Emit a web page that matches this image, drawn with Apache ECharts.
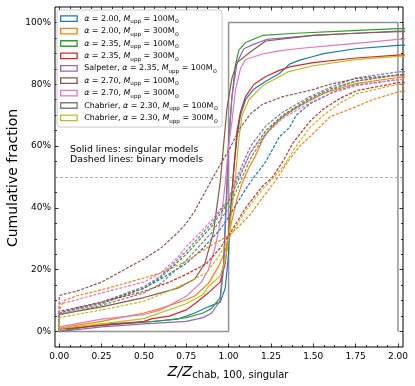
<!DOCTYPE html>
<html><head><meta charset="utf-8">
<script src="https://cdn.jsdelivr.net/npm/echarts@6/dist/echarts.min.js"></script>
<style>html,body{margin:0;padding:0;background:#fff}#c{width:415px;height:386px}</style>
</head><body><div id="c"></div>
<script>
// ---- data (x = Z/Z_chab,100,singular ; y = cumulative fraction in %) ----
const modelNames = ['a200_100','a200_300','a235_100','a235_300','salp','a270_100','a270_300','chab_100','chab_300'];
const legendLabels = [
  '{i|α} = 2.00, {i|M}{s|upp} = 100M{s|⊙}',
  '{i|α} = 2.00, {i|M}{s|upp} = 300M{s|⊙}',
  '{i|α} = 2.35, {i|M}{s|upp} = 100M{s|⊙}',
  '{i|α} = 2.35, {i|M}{s|upp} = 300M{s|⊙}',
  'Salpeter, {i|α} = 2.35, {i|M}{s|upp} = 100M{s|⊙}',
  '{i|α} = 2.70, {i|M}{s|upp} = 100M{s|⊙}',
  '{i|α} = 2.70, {i|M}{s|upp} = 300M{s|⊙}',
  'Chabrier, {i|α} = 2.30, {i|M}{s|upp} = 100M{s|⊙}',
  'Chabrier, {i|α} = 2.30, {i|M}{s|upp} = 300M{s|⊙}'
];
const colors = ['#1f77b4','#ff7f0e','#2ca02c','#d62728','#9467bd','#8c564b','#e377c2','#7f7f7f','#bcbd22'];

// singular models (solid)
const sing_a200_100 = [[0,0],[0,0.5],[0.1,1.2],[0.25,2],[0.5,3],[0.7,4],[0.8,6],[0.88,8],[0.95,9.5],[0.98,14],[1.0,25],[1.01,38],[1.03,52],[1.05,63],[1.07,70],[1.1,75],[1.15,78.5],[1.22,81],[1.3,83.5],[1.36,86.5],[1.42,87.8],[1.5,89],[1.56,89.9],[1.75,91.5],[2.0,92.6],[2.05,92.7]];
const sing_a200_300 = [[0,0],[0,1],[0.1,2],[0.25,3.3],[0.5,6],[0.6,7.5],[0.75,10.3],[0.8,11.5],[0.88,15.5],[0.94,21],[0.98,26],[1.02,36],[1.05,43],[1.08,48],[1.12,53],[1.16,57],[1.2,62],[1.25,66],[1.32,69.5],[1.4,72.5],[1.48,74.8],[1.56,77],[1.75,80.2],[2.0,82.2],[2.05,82.4]];
const sing_a235_100 = [[0,0],[0,0.5],[0.25,2.5],[0.5,3],[0.6,3.5],[0.75,4.5],[0.85,6],[0.9,7.5],[0.95,11],[0.97,22],[0.99,48],[1.0,62],[1.02,76],[1.04,86],[1.06,91],[1.1,93.5],[1.2,95.8],[1.4,96.5],[1.7,97.3],[2.0,98],[2.05,98]];
const sing_a235_300 = [[0,0],[0,0.8],[0.25,2],[0.5,3.3],[0.55,4.2],[0.65,5],[0.75,7],[0.8,9],[0.88,12.5],[0.95,16],[0.98,22],[1.0,31],[1.02,45],[1.03,52],[1.05,65],[1.07,71],[1.1,76],[1.15,80],[1.22,82.5],[1.3,84.5],[1.36,85.6],[1.5,87],[1.75,88.5],[2.0,89.4],[2.05,89.5]];
const sing_salp = [[0,0],[0,0.3],[0.25,1.5],[0.5,2.5],[0.75,3.3],[0.85,4.5],[0.9,6],[0.95,10],[0.97,20],[0.99,45],[1.0,60],[1.02,76],[1.05,87],[1.09,91.5],[1.15,93],[1.225,94.5],[1.5,95.8],[1.75,96.5],[2.0,97.2],[2.05,97.2]];
const sing_a270_100 = [[0,0],[0,5.5],[0.1,6.5],[0.25,8],[0.5,11],[0.6,12.5],[0.7,14],[0.8,17],[0.86,22],[0.91,32],[0.95,48],[0.97,60],[0.99,72],[1.02,82],[1.05,87],[1.13,90.5],[1.22,94],[1.5,95.8],[1.75,96.5],[2.0,97],[2.05,97]];
const sing_a270_300 = [[0,0],[0,1.5],[0.25,4],[0.5,5.5],[0.6,7],[0.75,11.4],[0.84,16],[0.88,20],[0.92,27],[0.96,38],[0.98,48],[1.0,60],[1.02,68],[1.04,78],[1.07,85],[1.1,88],[1.2,89.8],[1.3,90.8],[1.4,91.5],[1.6,92.5],[1.8,93.5],[2.0,94.5],[2.05,94.6]];
const sing_chab_100 = [[0,0],[1,0],[1,100],[2,100],[2,0]];
const sing_chab_300 = [[0,0],[0,1],[0.25,2.5],[0.5,4.2],[0.75,9],[0.85,12],[0.88,14.5],[0.95,18],[0.98,23],[1.0,30],[1.02,40],[1.04,50],[1.06,62],[1.08,70],[1.12,75],[1.2,79.5],[1.35,84],[1.5,86],[1.75,88],[2.0,89],[2.05,89.1]];

// binary models (dashed)
const bin_a200_100 = [[0,0],[0,6],[0.1,7.5],[0.25,9.5],[0.5,14],[0.6,17],[0.75,22],[0.85,27],[0.95,33],[1.0,37],[1.1,46],[1.15,50],[1.22,55],[1.3,63],[1.36,66],[1.4,70],[1.48,73.7],[1.62,77.5],[1.75,79.7],[2.0,81.5],[2.05,81.6]];
const bin_a200_300 = [[0,0],[0,7],[0.03,10],[0.1,11.5],[0.25,13.5],[0.5,17.3],[0.6,19],[0.75,22.7],[0.87,27],[0.95,29.5],[1.0,31],[1.06,34],[1.13,38],[1.19,42.5],[1.28,49],[1.35,55],[1.42,60],[1.48,63],[1.6,69.5],[1.75,72.7],[1.85,75],[2.0,77.5],[2.05,77.8]];
const bin_a235_100 = [[0,0],[0,6],[0.25,9],[0.5,14],[0.6,17.5],[0.75,25],[0.9,34],[1.0,42],[1.05,48],[1.13,58],[1.22,65],[1.32,70],[1.48,75.5],[1.6,78.5],[1.75,81],[2.0,83],[2.05,83.1]];
const bin_a235_300 = [[0,0],[0,6.5],[0.25,9.5],[0.5,13],[0.65,16],[0.75,18.5],[0.87,22],[0.95,27],[1.0,31],[1.1,40],[1.2,47],[1.26,50],[1.32,55],[1.38,61],[1.48,68],[1.56,72],[1.66,75.5],[1.76,78],[2.0,80.5],[2.05,80.6]];
const bin_salp = [[0,0],[0,6],[0.25,9.5],[0.5,14.5],[0.6,18],[0.75,26],[0.9,35],[1.0,43],[1.05,50],[1.13,60],[1.22,66.5],[1.32,71],[1.48,76],[1.6,79],[1.75,82],[2.0,84],[2.05,84.1]];
const bin_a270_100 = [[0,0],[0,11.5],[0.02,12],[0.1,13],[0.25,16],[0.35,19],[0.5,23.5],[0.6,27],[0.7,32],[0.75,35],[0.8,39],[0.88,47],[0.94,53],[1.0,58.5],[1.07,66],[1.13,70.5],[1.2,73.5],[1.32,76],[1.48,78],[1.6,80],[1.75,81.8],[2.0,83],[2.05,83.1]];
const bin_a270_300 = [[0,0],[0,9],[0.05,9.5],[0.25,12.5],[0.5,16],[0.6,19],[0.7,24],[0.75,27.5],[0.85,33],[0.9,36],[1.0,43],[1.05,49],[1.13,58],[1.22,64],[1.32,69],[1.48,74],[1.6,77],[1.75,79.5],[2.0,81.5],[2.05,81.6]];
const bin_chab_100 = [[0,0],[0,5.5],[0.25,8.5],[0.5,12.5],[0.6,15.5],[0.75,23],[0.9,32],[1.0,40],[1.05,46],[1.13,56],[1.22,64],[1.32,69.5],[1.48,75],[1.6,78],[1.75,81],[2.0,83],[2.05,83.1]];
const bin_chab_300 = [[0,0],[0,4.5],[0.25,7],[0.5,9.8],[0.6,12],[0.75,15.7],[0.87,19],[0.95,25],[1.0,30],[1.1,39],[1.2,46],[1.27,50],[1.33,54],[1.4,60],[1.48,66],[1.56,70],[1.66,74],[1.76,77],[2.0,80],[2.05,80.1]];

const singular = [sing_a200_100,sing_a200_300,sing_a235_100,sing_a235_300,sing_salp,sing_a270_100,sing_a270_300,sing_chab_100,sing_chab_300];
const binary = [bin_a200_100,bin_a200_300,bin_a235_100,bin_a235_300,bin_salp,bin_a270_100,bin_a270_300,bin_chab_100,bin_chab_300];

const xMajor = [0,0.25,0.5,0.75,1,1.25,1.5,1.75,2];
const yMajor = [0,20,40,60,80,100];
const halfLine = 50;

// ---- build ----
const xMinor = [];
for (let i = 0; i < xMajor.length - 1; i++) for (let k = 1; k < 4; k++) xMinor.push(xMajor[i] + k * (xMajor[i+1]-xMajor[i]) / 4);
const yMinor = [];
for (let i = 0; i < yMajor.length - 1; i++) for (let k = 1; k < 4; k++) yMinor.push(yMajor[i] + k * (yMajor[i+1]-yMajor[i]) / 4);

const FONT = 'DejaVu Sans';
const XMIN = -0.025, XMAX = 2.03, YMIN = -5, YMAX = 105;

function xAx(pos, ticks, len, labels) {
  return {type:'value', min:XMIN, max:XMAX, position:pos, gridIndex:0,
    axisLine:{show:false, onZero:false}, splitLine:{show:false},
    axisTick:{show:true, inside:true, length:len, customValues:ticks, lineStyle:{color:'#000', width:0.8}},
    axisLabel:labels ? {show:true, customValues:ticks, margin:5, fontSize:9, fontFamily:FONT, color:'#000', formatter:v=>v.toFixed(2)} : {show:false}};
}
function yAx(pos, ticks, len, labels) {
  return {type:'value', min:YMIN, max:YMAX, position:pos, gridIndex:0,
    axisLine:{show:false, onZero:false}, splitLine:{show:false},
    axisTick:{show:true, inside:true, length:len, customValues:ticks, lineStyle:{color:'#000', width:0.8}},
    axisLabel:labels ? {show:true, customValues:ticks, margin:4, fontSize:9, fontFamily:FONT, color:'#000', formatter:v=>Math.round(v)+'%'} : {show:false}};
}

const series = [];
singular.forEach((d, i) => {
  const s = {name:modelNames[i], type:'line', data:d, xAxisIndex:0, yAxisIndex:0,
    symbol:'none', showSymbol:false, clip:true, z: 3,
    lineStyle:{color:colors[i], width:1.2}, itemStyle:{color:colors[i], borderColor:colors[i]}};
  if (i === 7) {
    s.lineStyle = {color:'#808080', width:1.5, opacity:0.85};
    s.z = 2;
    s.markLine = {symbol:'none', silent:true, label:{show:false},
      lineStyle:{color:'#9a9a9a', type:[3,2], width:0.8}, data:[{yAxis:halfLine}]};
  }
  series.push(s);
});
binary.forEach((d, i) => {
  series.push({name:modelNames[i]+'_bin', type:'line', data:d, xAxisIndex:0, yAxisIndex:0,
    symbol:'none', showSymbol:false, clip:true, z: 3,
    lineStyle:{color:colors[i], width:1.2, type:[3,1.5]}, itemStyle:{color:colors[i]}});
});

const option = {
  animation:false,
  backgroundColor:'#fff',
  textStyle:{fontFamily:FONT},
  grid:{left:55, top:7, width:348, height:340, show:true, borderColor:'#000', borderWidth:1, backgroundColor:'transparent', containLabel:false, outerBoundsMode:'none'},
  xAxis:[xAx('bottom', xMajor, 3.5, true), xAx('bottom', xMinor, 2, false), xAx('top', xMajor, 3.5, false), xAx('top', xMinor, 2, false)],
  yAxis:[yAx('left', yMajor, 3.5, true), yAx('left', yMinor, 2, false), yAx('right', yMajor, 3.5, false), yAx('right', yMinor, 2, false)],
  legend:{
    orient:'vertical', left:57, top:10,
    padding:[2.5, 4, 3, 3], itemGap:0, itemWidth:16.5, itemHeight:5.5,
    backgroundColor:'rgba(255,255,255,0.85)', borderColor:'#cccccc', borderWidth:1, borderRadius:3,
    icon:'rect', selectedMode:false,
    data: modelNames.map((n, i) => ({name:n, icon:'rect', itemStyle:{color:'#ffffff', borderColor:colors[i], borderWidth:1.3}})),
    formatter: name => legendLabels[modelNames.indexOf(name)],
    textStyle:{fontSize:7.9, fontFamily:FONT, color:'#000', lineHeight:12.4, padding:[0,0,0,2],
      rich:{
        i:{fontStyle:'italic', fontSize:7.9, fontFamily:FONT, color:'#000', lineHeight:12.4},
        s:{fontSize:5.6, fontFamily:FONT, color:'#000', lineHeight:6, verticalAlign:'bottom'}
      }}
  },
  graphic:[
    {type:'text', left:70, top:144, z:10, style:{text:'Solid lines: singular models\nDashed lines: binary models', fontSize:9.4, lineHeight:10.5, fontFamily:FONT, fill:'#000'}},
    {type:'text', x:13, y:178, rotation:Math.PI/2, z:10, style:{text:'Cumulative fraction', fontSize:14, fontFamily:FONT, fill:'#000', align:'center', verticalAlign:'middle'}},
    {type:'text', x:228, y:372, z:10, style:{text:'{a|Z/Z}{b|chab, 100, singular}', align:'center', verticalAlign:'middle', fill:'#000',
      rich:{a:{fontSize:14.5, fontStyle:'italic', fontFamily:FONT, fill:'#000', lineHeight:17},
            b:{fontSize:10, fontFamily:FONT, fill:'#000', lineHeight:11, verticalAlign:'bottom'}}}}
  ],
  series: series
};
const chart = echarts.init(document.getElementById('c'), null, {renderer:'canvas'});
chart.setOption(option);
</script>
</body></html>
